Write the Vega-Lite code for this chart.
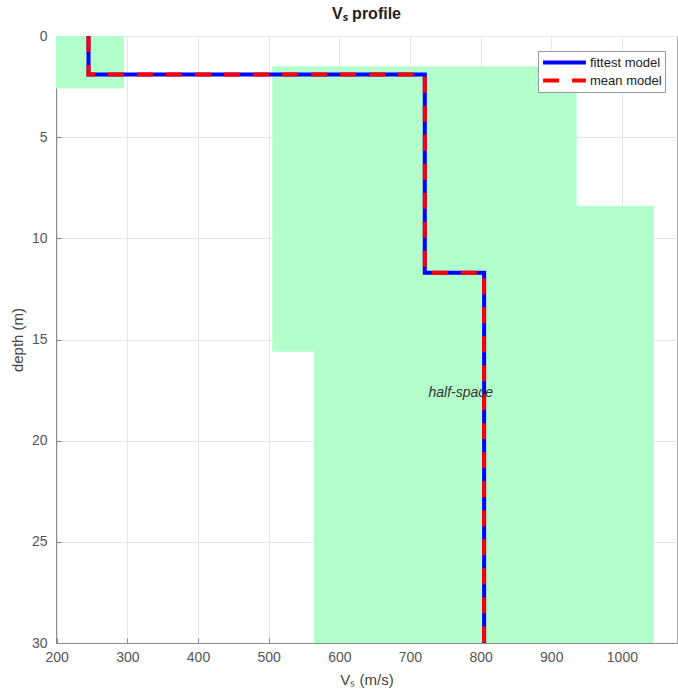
{
  "$schema": "https://vega.github.io/schema/vega-lite/v6.json",
  "width": 621,
  "height": 607,
  "autosize": "none",
  "padding": {"left": 56, "top": 36, "right": 1, "bottom": 49},
  "background": "white",
  "config": {
    "font": "Liberation Sans",
    "view": {"stroke": "#aaaaaa", "strokeWidth": 1},
    "axis": {
      "gridColor": "#e6e6e6",
      "gridWidth": 1,
      "domainColor": "#8c8c8c",
      "tickColor": "#8c8c8c",
      "labelColor": "#555555",
      "titleColor": "#444444",
      "labelFontSize": 14,
      "titleFontSize": 15,
      "titleFontWeight": "normal",
      "labelFlush": false,
      "labelOverlap": false,
      "tickSize": -5
    }
  },
  "title": {"text": "Vₛ profile", "fontSize": 16, "fontWeight": "bold", "color": "#222222", "offset": 6},
  "datasets": {
    "boxes": [
      {"v0": 199, "v1": 295, "d0": 0, "d1": 2.6},
      {"v0": 505, "v1": 936, "d0": 1.5, "d1": 15.6},
      {"v0": 564, "v1": 1045, "d0": 8.4, "d1": 30}
    ],
    "profile": [
      {"model": "fittest model", "i": 1, "vs": 245, "depth": 0},
      {"model": "fittest model", "i": 2, "vs": 245, "depth": 1.9},
      {"model": "fittest model", "i": 3, "vs": 721, "depth": 1.9},
      {"model": "fittest model", "i": 4, "vs": 721, "depth": 11.7},
      {"model": "fittest model", "i": 5, "vs": 805, "depth": 11.7},
      {"model": "fittest model", "i": 6, "vs": 805, "depth": 30},
      {"model": "mean model", "i": 1, "vs": 245, "depth": 0},
      {"model": "mean model", "i": 2, "vs": 245, "depth": 1.9},
      {"model": "mean model", "i": 3, "vs": 721, "depth": 1.9},
      {"model": "mean model", "i": 4, "vs": 721, "depth": 11.7},
      {"model": "mean model", "i": 5, "vs": 805, "depth": 11.7},
      {"model": "mean model", "i": 6, "vs": 805, "depth": 30}
    ],
    "labels": [
      {"vs": 772, "depth": 17.65, "text": "half-space"}
    ]
  },
  "layer": [
    {
      "data": {"name": "boxes"},
      "mark": {"type": "rect", "color": "#b3ffcc"},
      "encoding": {
        "x": {"field": "v0", "type": "quantitative",
              "scale": {"domain": [199, 1078], "nice": false, "zero": false},
              "axis": {"values": [200, 300, 400, 500, 600, 700, 800, 900, 1000], "format": "d", "title": "Vₛ (m/s)", "labelPadding": 12, "titlePadding": 8}},
        "x2": {"field": "v1"},
        "y": {"field": "d0", "type": "quantitative",
              "scale": {"domain": [0, 30], "reverse": true, "nice": false, "zero": false},
              "axis": {"values": [0, 5, 10, 15, 20, 25, 30], "title": "depth (m)", "labelPadding": 14, "titlePadding": 6}},
        "y2": {"field": "d1"}
      }
    },
    {
      "data": {"name": "profile"},
      "mark": {"type": "line", "strokeWidth": 4, "strokeCap": "butt", "strokeJoin": "miter"},
      "encoding": {
        "x": {"field": "vs", "type": "quantitative"},
        "y": {"field": "depth", "type": "quantitative"},
        "order": {"field": "i"},
        "color": {"field": "model", "type": "nominal",
                  "scale": {"domain": ["fittest model", "mean model"], "range": ["#0000ff", "#ff0000"]},
                  "legend": {"title": null, "orient": "none", "legendX": 482, "legendY": 15,
                             "symbolType": "M-3.5,0H3.5", "symbolSize": 150, "symbolStrokeWidth": 4,
                             "symbolOffset": 15, "labelOffset": 17,
                             "labelFontSize": 13, "labelColor": "#222222", "fillColor": "white",
                             "strokeColor": "#999999", "padding": 3, "rowPadding": 1}},
        "strokeDash": {"field": "model", "type": "nominal",
                       "scale": {"domain": ["fittest model", "mean model"], "range": [[1, 0], [16, 13]]},
                       "legend": {"title": null}}
      }
    },
    {
      "data": {"name": "labels"},
      "mark": {"type": "text", "fontStyle": "italic", "fontSize": 14, "color": "#333333"},
      "encoding": {
        "x": {"field": "vs", "type": "quantitative"},
        "y": {"field": "depth", "type": "quantitative"},
        "text": {"field": "text"}
      }
    }
  ]
}
